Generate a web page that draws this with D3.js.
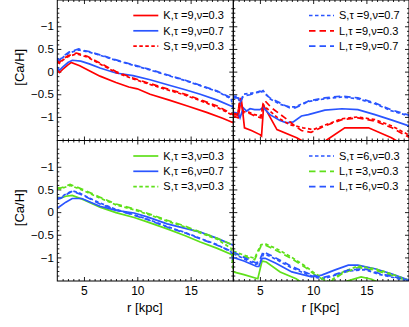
<!DOCTYPE html>
<html lang="en">
<head>
<meta charset="UTF-8">
<title>Ca/H gradients</title>
<script src="https://d3js.org/d3.v7.min.js"></script>
<style>
  body { margin: 0; background: #fff; }
  svg { display: block; font-family: "Liberation Sans", Arial, sans-serif; }
  .tick text { font-size: 11.5px; fill: #000; }
  .tick line { stroke: #222; }
</style>
</head>
<body>
<svg id="chart" width="409" height="327"></svg>
<script>
// axis ticks and labels
var yMajor = [-1, -0.5, 0, 0.5, 1];
var yLabels = ["\u22121", "\u22120.5", "0", "0.5", "\u22121"];
var xMajor = [5, 10, 15];

// top-left panel (tau = 9)
var tlK9a = [[2.5,0.05],[2.7,-0.02],[3.0,0.05],[3.5,0.15],[3.8,0.2],[4.6,0.13],[5.5,0.02],[6.5,-0.1],[8,-0.24],[9.2,-0.34],[10,-0.38],[11.2,-0.5],[13,-0.63],[14.7,-0.76],[16.5,-0.9],[18,-1.03],[19,-1.13]];
var tlK9b = [[2.5,0.1],[2.7,0.03],[3.0,0.1],[3.5,0.2],[3.9,0.25],[4.7,0.23],[5.5,0.17],[6.5,0.08],[8,-0.03],[9.6,-0.09],[11.2,-0.18],[13,-0.3],[14.5,-0.4],[15.9,-0.5],[17.5,-0.63],[19,-0.78]];
var tlS9a = [[2.5,0.22],[2.7,0.18],[3.0,0.25],[3.5,0.33],[4.3,0.39],[5.3,0.32],[6.5,0.17],[8,-0.02],[9.6,-0.16],[11,-0.27],[12.8,-0.4],[14.5,-0.52],[15.9,-0.64],[17.5,-0.79],[19,-0.97]];
var tlS9b = [[2.5,0.28],[2.7,0.24],[3.0,0.31],[3.6,0.41],[4.5,0.48],[4.9,0.46],[5.5,0.43],[6.5,0.36],[8,0.25],[9.6,0.14],[11,0.05],[12.8,-0.08],[14.5,-0.2],[15.9,-0.31],[17.5,-0.44],[18.8,-0.6],[19,-0.85]];
var tlL9a = [[2.5,0.25],[2.7,0.2],[3.0,0.27],[3.5,0.35],[4.3,0.41],[5.3,0.34],[6.5,0.19],[8,0.0],[9.6,-0.14],[11,-0.25],[12.8,-0.38],[14.5,-0.5],[15.9,-0.62],[17.5,-0.76],[19,-0.95]];
var tlL9b = [[2.5,0.3],[2.7,0.25],[3.0,0.33],[3.6,0.43],[4.5,0.5],[4.9,0.47],[5.5,0.44],[6.5,0.37],[8,0.26],[9.6,0.15],[11,0.06],[12.8,-0.07],[14.5,-0.19],[15.9,-0.3],[17.5,-0.43],[19,-0.6]];

// top-right panel (tau = 9)
var trK9a = [[2.5,-0.98],[2.95,-1.02],[3.25,-0.6],[3.55,-1.24],[4.2,-1.3],[5.0,-1.39],[5.15,-1.42],[5.35,-0.75],[6.6,-1.28],[8.45,-1.46],[10,-1.66],[11.2,-1.52],[12.97,-1.24],[15.2,-1.24],[17.35,-1.46],[18.5,-1.62]];
var trK9b = [[2.5,-0.9],[2.95,-0.92],[3.13,-1.02],[3.44,-0.8],[3.75,-0.87],[4.07,-0.82],[4.5,-0.84],[5.0,-0.84],[5.3,-0.79],[5.94,-0.95],[6.88,-1.08],[7.5,-1.13],[8.13,-1.11],[8.9,-0.98],[9.55,-0.95],[11.1,-0.85],[12.7,-0.82],[14.2,-0.84],[15.8,-0.95],[17.4,-1.07],[19,-1.2]];
var trS9a = [[2.5,-0.92],[2.9,-0.94],[3.15,-0.62],[3.45,-0.88],[4.0,-0.9],[4.5,-0.95],[5.1,-0.98],[5.3,-0.72],[5.6,-0.8],[6.57,-1.0],[7.8,-1.17],[9.06,-1.24],[10,-1.28],[11.1,-1.18],[12.7,-1.04],[14.2,-1.0],[15.8,-1.06],[17.4,-1.2],[19,-1.4]];
var trS9b = [[2.5,-0.54],[2.95,-0.55],[3.13,-0.72],[3.44,-0.5],[4.07,-0.48],[5.0,-0.45],[5.3,-0.42],[5.94,-0.6],[6.88,-0.72],[7.8,-0.78],[8.3,-0.78],[9.06,-0.7],[9.55,-0.66],[11.1,-0.6],[12.7,-0.56],[14.2,-0.6],[15.8,-0.71],[17.3,-0.86],[19,-0.98]];
var trL9a = [[2.5,-0.95],[2.9,-0.96],[3.15,-0.58],[3.45,-0.91],[4.0,-0.92],[4.5,-0.98],[5.1,-1.02],[5.3,-0.7],[5.5,-0.65],[6.1,-0.8],[7.35,-1.02],[8.3,-1.2],[8.9,-1.3],[9.8,-1.34],[11.1,-1.2],[12.7,-1.06],[14.2,-1.02],[15.8,-1.09],[17.4,-1.24],[19,-1.45]];
var trL9b = [[2.5,-0.58],[2.95,-0.58],[3.13,-0.69],[3.44,-0.54],[4.07,-0.51],[5.0,-0.43],[5.3,-0.46],[5.94,-0.58],[6.88,-0.69],[7.8,-0.8],[8.3,-0.8],[9.06,-0.72],[9.55,-0.65],[11.1,-0.58],[12.7,-0.54],[14.2,-0.58],[15.8,-0.69],[17.3,-0.84],[19,-0.96]];

// bottom-left panel (tau = 3, 6)
var blK3 = [[2.5,0.33],[2.8,0.31],[3.3,0.35],[3.9,0.37],[5.0,0.27],[6.5,0.11],[8,-0.01],[9.7,-0.12],[11,-0.22],[12.8,-0.37],[14.5,-0.52],[15.9,-0.66],[17.5,-0.8],[19,-0.95]];
var blK6 = [[2.5,0.1],[2.7,0.12],[3.3,0.22],[3.9,0.3],[4.8,0.3],[5.5,0.23],[6.5,0.13],[8,0.04],[9.7,-0.02],[11,-0.11],[12.8,-0.26],[14.5,-0.36],[15.9,-0.44],[17.5,-0.58],[19,-0.73]];
var blS3 = [[2.5,0.52],[2.8,0.51],[3.7,0.59],[4.8,0.49],[6.5,0.31],[8,0.16],[9.7,0.05],[11,-0.05],[12.8,-0.2],[14.5,-0.33],[15.9,-0.46],[17.5,-0.6],[18.8,-0.8],[19,-1.32]];
var blS6 = [[2.5,0.31],[2.8,0.32],[3.3,0.4],[3.9,0.47],[4.6,0.42],[5.5,0.31],[6.5,0.2],[8,0.06],[9.7,-0.06],[11,-0.16],[12.8,-0.32],[14.5,-0.45],[15.9,-0.58],[17.5,-0.72],[18.8,-0.88],[19,-1.1]];
var blL3 = [[2.5,0.54],[2.8,0.53],[3.7,0.61],[4.8,0.51],[6.5,0.33],[8,0.18],[9.7,0.07],[11,-0.03],[12.8,-0.18],[14.5,-0.31],[15.9,-0.44],[17.5,-0.58],[19,-0.73]];
var blL6 = [[2.5,0.29],[2.8,0.3],[3.3,0.38],[3.9,0.46],[4.6,0.4],[5.5,0.3],[6.5,0.18],[8,0.05],[9.7,-0.07],[11,-0.17],[12.8,-0.33],[14.5,-0.46],[15.9,-0.59],[17.5,-0.73],[19,-0.88]];

// bottom-right panel (tau = 3, 6)
var brK3 = [[2.5,-1.32],[3.5,-1.38],[4.8,-1.47],[5.2,-1.08],[5.6,-1.1],[6.9,-1.32],[8.4,-1.47],[9.2,-1.6],[12.5,-1.62],[13.2,-1.52],[14.5,-1.43],[15.5,-1.48],[16.5,-1.6]];
var brK6 = [[2.5,-1.0],[3.5,-1.08],[4.7,-1.2],[4.9,-1.2],[5.2,-1.02],[5.5,-1.02],[6.5,-1.13],[8,-1.32],[9.85,-1.43],[10.8,-1.39],[12,-1.28],[13.3,-1.17],[14.2,-1.17],[15.8,-1.25],[17.35,-1.36],[19,-1.5]];
var brS3 = [[2.5,-0.86],[3.5,-0.95],[4.5,-1.02],[4.8,-0.86],[5.1,-0.72],[5.5,-0.7],[6.5,-0.8],[8,-1.0],[9.2,-1.18],[10.2,-1.36],[11.5,-1.54],[12.7,-1.33],[14.2,-1.19],[15.8,-1.25],[17.3,-1.36],[18.9,-1.5]];
var brS6 = [[2.5,-0.92],[3.5,-1.03],[4.6,-1.15],[5.0,-1.12],[5.35,-0.92],[6,-0.98],[8,-1.23],[9.5,-1.38],[10.8,-1.48],[12,-1.4],[13.3,-1.3],[14.8,-1.27],[16.3,-1.38],[18.6,-1.5]];
var brL3 = [[2.5,-0.9],[3.5,-0.98],[4.5,-1.05],[4.8,-0.9],[5.1,-0.75],[5.5,-0.73],[6.5,-0.84],[8,-1.03],[9.2,-1.21],[10.2,-1.39],[11.5,-1.56],[12.7,-1.36],[14.2,-1.22],[15.8,-1.28],[17.3,-1.39],[18.9,-1.52]];
var brL6 = [[2.5,-0.88],[3.5,-1.0],[4.6,-1.12],[4.9,-1.1],[5.3,-0.88],[6,-0.95],[8,-1.2],[9.5,-1.35],[10.8,-1.45],[12,-1.38],[13.3,-1.28],[14.8,-1.25],[16.3,-1.36],[18.6,-1.48],[19,-1.52]];

var RED = "#ff0000", BLUE = "#2a55ff", GREEN = "#5fe01a";
var SOLID = null, DOT = "3.5,2.5", DASH = "6.5,4";

var panels = [
  { x0: 57.3, x1: 233.3, y0: 0, y1: 140.5, left: true, bottom: false, xTitle: null,
    series: [
      { d: tlK9a, c: RED, s: SOLID, name: "K,\u03c4 =9,\u03bd=0.3", leg: true },
      { d: tlK9b, c: BLUE, s: SOLID, name: "K,\u03c4 =9,\u03bd=0.7", leg: true },
      { d: tlS9a, c: RED, s: DOT, name: "S,\u03c4 =9,\u03bd=0.3", leg: true },
      { d: tlS9b, c: BLUE, s: DOT },
      { d: tlL9a, c: RED, s: DASH },
      { d: tlL9b, c: BLUE, s: DASH }
    ] },
  { x0: 233.3, x1: 409, y0: 0, y1: 140.5, left: false, bottom: false, xTitle: null,
    series: [
      { d: trK9a, c: RED, s: SOLID },
      { d: trK9b, c: BLUE, s: SOLID },
      { d: trS9a, c: RED, s: DOT },
      { d: trS9b, c: BLUE, s: DOT, name: "S,\u03c4 =9,\u03bd=0.7", leg: true },
      { d: trL9a, c: RED, s: DASH, name: "L,\u03c4 =9,\u03bd=0.3", leg: true },
      { d: trL9b, c: BLUE, s: DASH, name: "L,\u03c4 =9,\u03bd=0.7", leg: true }
    ] },
  { x0: 57.3, x1: 233.3, y0: 140.5, y1: 281, left: true, bottom: true, xTitle: "r [kpc]",
    series: [
      { d: blK3, c: GREEN, s: SOLID, name: "K,\u03c4 =3,\u03bd=0.3", leg: true },
      { d: blK6, c: BLUE, s: SOLID, name: "K,\u03c4 =6,\u03bd=0.7", leg: true },
      { d: blS3, c: GREEN, s: DOT, name: "S,\u03c4 =3,\u03bd=0.3", leg: true },
      { d: blS6, c: BLUE, s: DOT },
      { d: blL3, c: GREEN, s: DASH },
      { d: blL6, c: BLUE, s: DASH }
    ] },
  { x0: 233.3, x1: 409, y0: 140.5, y1: 281, left: false, bottom: true, xTitle: "r [Kpc]",
    series: [
      { d: brK3, c: GREEN, s: SOLID },
      { d: brK6, c: BLUE, s: SOLID },
      { d: brS3, c: GREEN, s: DOT },
      { d: brS6, c: BLUE, s: DOT, name: "S,\u03c4 =6,\u03bd=0.3", leg: true },
      { d: brL3, c: GREEN, s: DASH, name: "L,\u03c4 =3,\u03bd=0.3", leg: true },
      { d: brL6, c: BLUE, s: DASH, name: "L,\u03c4 =6,\u03bd=0.3", leg: true }
    ] }
];

var svg = d3.select("#chart");
var defs = svg.append("defs");

panels.forEach(function(p, i) {
  var x = d3.scaleLinear().domain([2.5, 19]).range([p.x0, p.x1]);
  var y = d3.scaleLinear().domain([-1.52, 1.58]).range([p.y1, p.y0]);
  var g = svg.append("g");

  defs.append("clipPath").attr("id", "clip" + i)
    .append("rect").attr("x", p.x0).attr("y", p.y0)
    .attr("width", p.x1 - p.x0).attr("height", p.y1 - p.y0);

  var xMinor = d3.range(3, 19.01, 0.5).filter(function(v) { return xMajor.indexOf(v) < 0; });
  var yMinor = d3.range(-15, 16).map(function(v) { return v / 10; })
    .filter(function(v) { return Math.abs(v * 2 - Math.round(v * 2)) > 1e-6; });

  // minor ticks on all sides
  [[d3.axisBottom(x), p.y1], [d3.axisTop(x), p.y0]].forEach(function(a) {
    g.append("g").attr("transform", "translate(0," + a[1] + ")")
      .call(a[0].tickValues(xMinor).tickSize(-2).tickFormat(""))
      .call(function(s) { s.select(".domain").remove(); });
  });
  [[d3.axisLeft(y), p.x0], [d3.axisRight(y), p.x1]].forEach(function(a) {
    g.append("g").attr("transform", "translate(" + a[1] + ",0)")
      .call(a[0].tickValues(yMinor).tickSize(-2).tickFormat(""))
      .call(function(s) { s.select(".domain").remove(); });
  });

  // major ticks
  g.append("g").attr("transform", "translate(0," + p.y1 + ")")
    .call(d3.axisBottom(x).tickValues(xMajor).tickSize(-4).tickPadding(5.5)
      .tickFormat(p.bottom ? d3.format("d") : ""))
    .call(function(s) { s.select(".domain").remove(); s.selectAll("text").style("font-size", "12px"); });
  g.append("g").attr("transform", "translate(0," + p.y0 + ")")
    .call(d3.axisTop(x).tickValues(xMajor).tickSize(-4).tickFormat(""))
    .call(function(s) { s.select(".domain").remove(); });
  g.append("g").attr("transform", "translate(" + p.x0 + ",0)")
    .call(d3.axisLeft(y).tickValues(yMajor).tickSize(-4).tickPadding(3.5)
      .tickFormat(p.left ? function(d, k) { return yLabels[k]; } : ""))
    .call(function(s) { s.select(".domain").remove(); });
  g.append("g").attr("transform", "translate(" + p.x1 + ",0)")
    .call(d3.axisRight(y).tickValues(yMajor).tickSize(-4).tickFormat(""))
    .call(function(s) { s.select(".domain").remove(); });

  // data lines
  var line = d3.line().x(function(d) { return x(d[0]); }).y(function(d) { return y(d[1]); });
  g.append("g").attr("clip-path", "url(#clip" + i + ")")
    .selectAll("path")
    .data(p.series)
    .join("path")
    .attr("d", function(s) { return line(s.d); })
    .attr("fill", "none")
    .attr("stroke", function(s) { return s.c; })
    .attr("stroke-width", 1.7)
    .attr("stroke-dasharray", function(s) { return s.s; });

  // frame
  g.append("rect").attr("x", p.x0).attr("y", p.y0)
    .attr("width", p.x1 - p.x0).attr("height", p.y1 - p.y0)
    .attr("fill", "none").attr("stroke", "#000").attr("stroke-width", 1);

  // legend
  var leg = p.series.filter(function(s) { return s.leg; });
  var lg = g.append("g");
  leg.forEach(function(s, k) {
    var ly = p.y0 + 15.5 + k * 15.3;
    lg.append("line")
      .attr("x1", p.x1 - 100).attr("x2", p.x1 - 75)
      .attr("y1", ly).attr("y2", ly)
      .attr("stroke", s.c).attr("stroke-width", 1.7)
      .attr("stroke-dasharray", s.s);
    lg.append("text")
      .attr("x", p.x1 - 70).attr("y", ly)
      .attr("dy", "0.35em")
      .style("font-size", "11px")
      .text(s.name);
  });

  if (p.left) {
    svg.append("text")
      .attr("transform", "translate(24," + ((p.y0 + p.y1) / 2 - 3) + ") rotate(-90)")
      .attr("text-anchor", "middle")
      .style("font-size", "13px")
      .text("[Ca/H]");
  }
  if (p.xTitle) {
    svg.append("text")
      .attr("x", (p.x0 + p.x1) / 2 - 0.5)
      .attr("y", 312)
      .attr("text-anchor", "middle")
      .style("font-size", "13px")
      .text(p.xTitle);
  }
});
</script>
</body>
</html>
